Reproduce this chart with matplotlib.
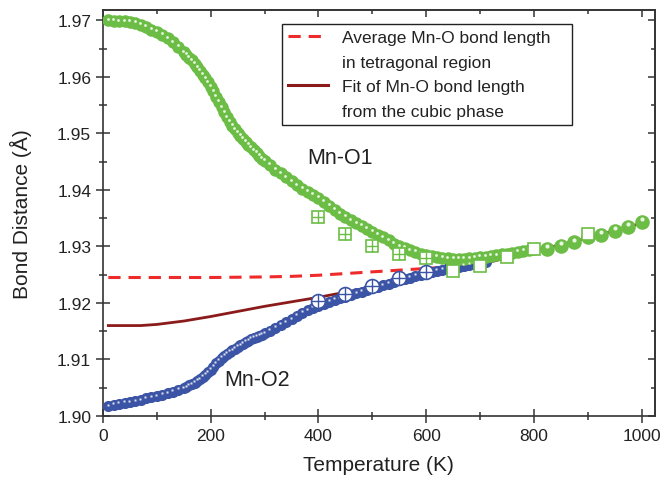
import matplotlib
matplotlib.use("Agg")
import matplotlib.pyplot as plt
from matplotlib.lines import Line2D
from matplotlib.ticker import MultipleLocator
from matplotlib.transforms import offset_copy

plt.rcParams['font.family'] = ['Liberation Sans', 'DejaVu Sans']

# Mn-O1 (dense data; 5 K steps around the transition)
t_o1 = list(range(10, 150, 10)) + list(range(150, 300, 5)) + list(range(300, 810, 10))
d_o1 = [1.9700, 1.9699, 1.9698, 1.9698, 1.9697, 1.9695, 1.9692, 1.9688, 1.9683, 1.9679,
        1.9674, 1.9668, 1.9661, 1.9653,
        1.9643, 1.9639, 1.9634, 1.9629, 1.9623, 1.9617, 1.9611, 1.9604, 1.9597, 1.9590,
        1.9582, 1.9574, 1.9565, 1.9556, 1.9546, 1.9537, 1.9528, 1.9520, 1.9513, 1.9507,
        1.9501, 1.9495, 1.9490, 1.9485, 1.9480, 1.9475, 1.9470, 1.9465, 1.9460, 1.9455,
        1.9451, 1.9444, 1.9436, 1.9429, 1.9422, 1.9415, 1.9408, 1.9402, 1.9396, 1.9391,
        1.9386, 1.9379, 1.9372, 1.9365, 1.9358, 1.9352, 1.9346, 1.9341, 1.9336, 1.9331,
        1.9326, 1.9321, 1.9316, 1.9311, 1.9305, 1.9300, 1.9297, 1.9293, 1.9290, 1.9287,
        1.9285, 1.9283, 1.9281, 1.9280, 1.9279, 1.9278, 1.9278, 1.9278, 1.9279, 1.9280,
        1.9281, 1.9282, 1.9283, 1.9284, 1.9286, 1.9287, 1.9289, 1.9290, 1.9292, 1.9294,
        1.9295]

# Mn-O1 (high temperature, sparse)
t_o1_hi = [825, 850, 875, 900, 925, 950, 975, 1000]
d_o1_hi = [1.9296, 1.9301, 1.9307, 1.9317, 1.9321, 1.9328, 1.9335, 1.9343]

# Mn-O2 (dense data)
t_o2 = list(range(10, 150, 10)) + list(range(150, 300, 5)) + list(range(300, 720, 10))
d_o2 = [1.9017, 1.9020, 1.9022, 1.9023, 1.9024, 1.9026, 1.9028, 1.9031, 1.9033, 1.9035,
        1.9037, 1.9040, 1.9043, 1.9046,
        1.9049, 1.9051, 1.9054, 1.9056, 1.9059, 1.9062, 1.9065, 1.9069, 1.9073, 1.9077,
        1.9082, 1.9087, 1.9093, 1.9098, 1.9103, 1.9107, 1.9110, 1.9113, 1.9116, 1.9119,
        1.9122, 1.9125, 1.9128, 1.9131, 1.9133, 1.9136, 1.9138, 1.9140, 1.9142, 1.9144,
        1.9146, 1.9151, 1.9156, 1.9161, 1.9166, 1.9171, 1.9177, 1.9182, 1.9187, 1.9191,
        1.9195, 1.9199, 1.9202, 1.9205, 1.9208, 1.9211, 1.9214, 1.9217, 1.9220, 1.9223,
        1.9226, 1.9229, 1.9231, 1.9234, 1.9237, 1.9240, 1.9242, 1.9245, 1.9248, 1.9250,
        1.9253, 1.9255, 1.9257, 1.9259, 1.9261, 1.9262, 1.9264, 1.9266, 1.9267, 1.9269,
        1.9270, 1.9272]

# open squares (second data set, Mn-O1)
t_sq_cross = [400, 450, 500, 550, 600]
d_sq_cross = [1.9352, 1.9322, 1.9301, 1.9286, 1.9279]
t_sq = [650, 700, 750, 800, 900]
d_sq = [1.9257, 1.9266, 1.9281, 1.9295, 1.9322]

# open circles with cross (second data set, Mn-O2)
t_circ = [400, 450, 500, 550, 600]
d_circ = [1.9203, 1.9216, 1.9230, 1.9245, 1.9255]

# fit line from cubic phase
t_fit = [10, 50, 70, 100, 150, 200, 250, 300, 350, 400, 450, 500, 550, 600,
         650, 700, 750, 800, 850, 900, 950, 1000]
d_fit = [1.9160, 1.9160, 1.9160, 1.9162, 1.9168, 1.9176, 1.9185, 1.9194, 1.9202, 1.9210,
         1.9219, 1.9228, 1.9238, 1.9248, 1.9258, 1.9268, 1.9280, 1.9292, 1.9303, 1.9315,
         1.9328, 1.9341]

# average in tetragonal region
t_avg = [10, 100, 200, 300, 350, 400, 450, 500, 550, 600, 650]
d_avg = [1.9245, 1.9245, 1.9245, 1.9246, 1.9247, 1.9249, 1.9252, 1.9255, 1.9258, 1.9261, 1.9264]

green = '#6cbd45'
blue = '#3c54a5'
red = '#ee2a2a'
darkred = '#8b1a1a'
axcol = '#333333'
txtcol = '#222222'

fig = plt.figure(figsize=(6.6, 4.81), dpi=100)
ax = fig.add_axes([0.156, 0.133, 0.836, 0.844])

ax.plot(t_avg, d_avg, color=red, lw=2.2, dashes=(4, 2.6), zorder=2)
ax.plot(t_fit, d_fit, color=darkred, lw=2.0, zorder=2)

hl = offset_copy(ax.transData, fig=fig, x=-0.5, y=1.2, units='points')

ax.plot(t_o2, d_o2, 'o', color=blue, ms=8, mec='none', zorder=3)
ax.plot(t_o2, d_o2, 's', color='white', ms=1.8, mec='none', zorder=3.1, transform=hl, alpha=0.85)

ax.plot(t_o1, d_o1, 'o', color=green, ms=9, mec='none', zorder=3)
ax.plot(t_o1, d_o1, 'o', color='white', ms=2.0, mec='none', zorder=3.1, transform=hl, alpha=0.85)
ax.plot(t_o1_hi, d_o1_hi, 'o', color=green, ms=10.5, mec='none', zorder=3)
ax.plot(t_o1_hi, d_o1_hi, 'o', color='#e8f5e0', ms=3.0, mec='none', zorder=3.1,
        transform=offset_copy(ax.transData, fig=fig, x=0, y=2.0, units='points'))

ax.plot(t_sq_cross, d_sq_cross, 's', mfc='white', mec=green, mew=1.2, ms=9, zorder=4)
ax.plot(t_sq_cross, d_sq_cross, '+', color=green, mew=1.0, ms=9, zorder=4.1)
ax.plot(t_sq, d_sq, 's', mfc='white', mec=green, mew=1.2, ms=9, zorder=4)

ax.plot(t_circ, d_circ, 'o', mfc='white', mec=blue, mew=1.2, ms=10, zorder=4)
ax.plot(t_circ, d_circ, '+', color=blue, mew=1.0, ms=10, zorder=4.1)

ax.text(439, 1.9458, 'Mn-O1', fontsize=15.5, ha='center', va='center', color=txtcol)
ax.text(286, 1.9065, 'Mn-O2', fontsize=15.5, ha='center', va='center', color=txtcol)

ax.set_xlim(0, 1024)
ax.set_ylim(1.900, 1.9718)
ax.xaxis.set_major_locator(MultipleLocator(200))
ax.xaxis.set_minor_locator(MultipleLocator(100))
ax.yaxis.set_major_locator(MultipleLocator(0.01))
ax.yaxis.set_minor_locator(MultipleLocator(0.005))
ax.yaxis.set_major_formatter(plt.FormatStrFormatter('%.2f'))

ax.tick_params(which='major', direction='inout', length=10, width=1.1, color=axcol,
               labelsize=12.5, labelcolor=txtcol)
ax.tick_params(which='minor', direction='inout', length=6, width=1.1, color=axcol)
for s in ax.spines.values():
    s.set_linewidth(1.2)
    s.set_color(axcol)

top = ax.secondary_xaxis('top')
top.xaxis.set_major_locator(MultipleLocator(200))
top.xaxis.set_minor_locator(MultipleLocator(100))
top.tick_params(which='both', direction='in', labeltop=False, width=1.1, color=axcol)
top.tick_params(which='major', length=5)
top.tick_params(which='minor', length=3)
right = ax.secondary_yaxis('right')
right.yaxis.set_major_locator(MultipleLocator(0.01))
right.yaxis.set_minor_locator(MultipleLocator(0.005))
right.tick_params(which='both', direction='in', labelright=False, width=1.1, color=axcol)
right.tick_params(which='major', length=5)
right.tick_params(which='minor', length=3)
for sec in (top, right):
    for s in sec.spines.values():
        s.set_linewidth(1.2)
        s.set_color(axcol)

ax.set_xlabel('Temperature (K)', fontsize=15, color=txtcol, labelpad=9)
ax.set_ylabel('Bond Distance (Å)', fontsize=15, color=txtcol, labelpad=18)

handles = [Line2D([], [], color=red, lw=2.2, dashes=(4, 2.6)),
           Line2D([], [], color='none'),
           Line2D([], [], color=darkred, lw=2.2),
           Line2D([], [], color='none')]
labels = ['Average Mn-O bond length', 'in tetragonal region',
          'Fit of Mn-O bond length', 'from the cubic phase']
leg = ax.legend(handles, labels, loc='upper left', bbox_to_anchor=(0.324, 0.724, 0.526, 0.242),
                mode='expand', fontsize=12.5, frameon=True, fancybox=False,
                edgecolor=txtcol, framealpha=1, handlelength=2.3, handletextpad=0.8,
                labelspacing=0.55, borderpad=0.35, borderaxespad=0)
leg.get_frame().set_linewidth(1.0)
for t in leg.get_texts():
    t.set_color(txtcol)

fig.savefig('out.png', dpi=100)
